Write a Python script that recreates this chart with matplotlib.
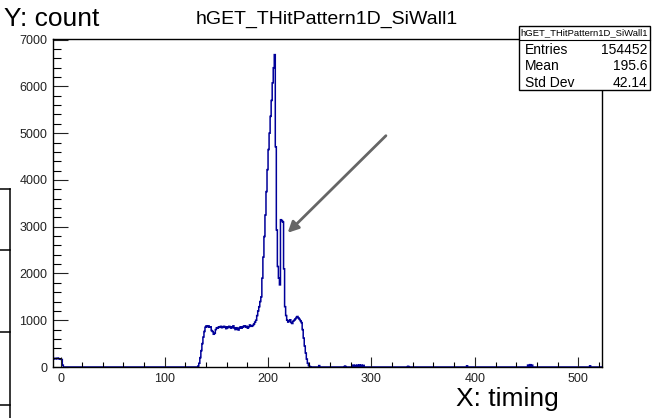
import numpy as np
import matplotlib
matplotlib.use("Agg")
import matplotlib.pyplot as plt
from matplotlib.patches import Rectangle
from matplotlib.lines import Line2D
from matplotlib.ticker import MultipleLocator

plt.rcParams['font.family'] = ['Liberation Sans', 'DejaVu Sans']

## datos del histograma (un bin por unidad de timing)
x_lo, x_hi = -8, 524

near0_start = -8
near0_counts = [180, 185, 175, 180, 190, 180, 175, 170, 160, 40]

main_start = 131
main_counts = [
    0, 20, 80, 200, 350, 500, 640, 760, 850, 880,          # 131-140
    860, 880, 850, 860, 780, 760, 700, 720, 800, 840,      # 141-150
    830, 860, 850, 870, 840, 860, 870, 850, 820, 860,      # 151-160
    840, 870, 850, 830, 860, 880, 830, 800, 840, 820,      # 161-170
    790, 840, 860, 830, 850, 870, 880, 850, 870, 830,      # 171-180
    860, 900, 880, 870, 890, 920, 960, 1000, 1100, 1200,   # 181-190
    1290, 1400, 1500, 1900, 2350, 2790, 3250, 3750, 4220, 4650,  # 191-200
    5000, 5360, 5700, 6075, 6400, 6680, 4710, 2930, 2150, 1900,  # 201-210
    1756, 3150, 3130, 3100, 2100, 1290, 1100, 1000, 960, 990,    # 211-220
    1010, 950, 930, 980, 1000, 1030, 1060, 1080, 1050, 1020,     # 221-230
    990, 950, 800, 620, 450, 300, 170, 80, 30, 10,               # 231-240
]

blip_x = [249, 274, 282, 284, 286, 288, 290, 292, 335, 392, 451, 453, 455, 511]
blip_counts = [30, 20, 40, 35, 40, 45, 40, 35, 15, 25, 40, 50, 40, 25]

hist_title = "hGET_THitPattern1D_SiWall1"
stat_names = ["Entries", "Mean", "Std Dev"]
stat_values = ["154452", "195.6", "42.14"]

edges = np.arange(x_lo, x_hi + 1)
counts = np.zeros(len(edges) - 1)
counts[near0_start - x_lo:near0_start - x_lo + len(near0_counts)] = near0_counts
counts[main_start - x_lo:main_start - x_lo + len(main_counts)] = main_counts
for xb, c in zip(blip_x, blip_counts):
    counts[xb - x_lo] = c

## figura (coordenadas en pixeles -> fraccion)
W, H = 654, 418
def fx(px):
    return px / W
def fy(py):
    return 1 - py / H

fig = plt.figure(figsize=(W / 100, H / 100), dpi=100)
ax = fig.add_axes([fx(53), fy(367), fx(602) - fx(53), fy(39) - fy(367)])

ax.stairs(counts, edges, color='#000099', lw=1.1)
ax.set_xlim(x_lo, 523)
ax.set_ylim(0, counts.max() * 1.05)

ax.xaxis.set_major_locator(MultipleLocator(100))
ax.xaxis.set_minor_locator(MultipleLocator(20))
ax.yaxis.set_major_locator(MultipleLocator(1000))
ax.yaxis.set_minor_locator(MultipleLocator(200))
ax.tick_params(axis='y', which='major', direction='in', length=10.8, width=0.8,
               labelsize=9, pad=4, colors='#222222')
ax.tick_params(axis='y', which='minor', direction='in', length=5.5, width=0.8)
ax.tick_params(axis='x', which='major', direction='in', length=7, width=0.8,
               labelsize=9, pad=4, colors='#222222')
ax.tick_params(axis='x', which='minor', direction='in', length=3.6, width=0.8)
for s in ax.spines.values():
    s.set_linewidth(1.0)

# flecha gris hacia el segundo pico
ax.annotate("", xy=(219, 2870), xytext=(314, 4946),
            arrowprops=dict(arrowstyle='-|>', color='#666666', lw=2,
                            mutation_scale=16, shrinkA=0, shrinkB=0))

# titulos
fig.text(fx(327), fy(19), hist_title, ha='center', va='center', fontsize=14)
fig.text(fx(4), fy(19), "Y: count", ha='left', va='center', fontsize=19)
fig.text(fx(456), fy(399), "X: timing", ha='left', va='center', fontsize=19)

# caja de estadisticas
fig.add_artist(Rectangle((fx(519), fy(90)), fx(650) - fx(519), fy(26) - fy(90),
                         transform=fig.transFigure, facecolor='white',
                         edgecolor='black', lw=1.0, zorder=5))
fig.add_artist(Line2D([fx(519), fx(650)], [fy(40), fy(40)],
                      transform=fig.transFigure, color='black', lw=0.8, zorder=6))
fig.text(fx(584), fy(33), hist_title, ha='center', va='center', fontsize=6.8, zorder=7)
for i, (n, v) in enumerate(zip(stat_names, stat_values)):
    yy = fy(50 + i * 16.5)
    fig.text(fx(525), yy, n, ha='left', va='center', fontsize=10, zorder=7)
    fig.text(fx(647), yy, v, ha='right', va='center', fontsize=10, zorder=7)

# recuadro cortado a la izquierda
fig.add_artist(Line2D([fx(10), fx(10)], [fy(189), fy(418)],
                      transform=fig.transFigure, color='black', lw=1.1))
for yy in [189, 250, 332, 405]:
    fig.add_artist(Line2D([fx(0), fx(10)], [fy(yy), fy(yy)],
                          transform=fig.transFigure, color='black', lw=1.1))

fig.savefig("out.png", dpi=100)
